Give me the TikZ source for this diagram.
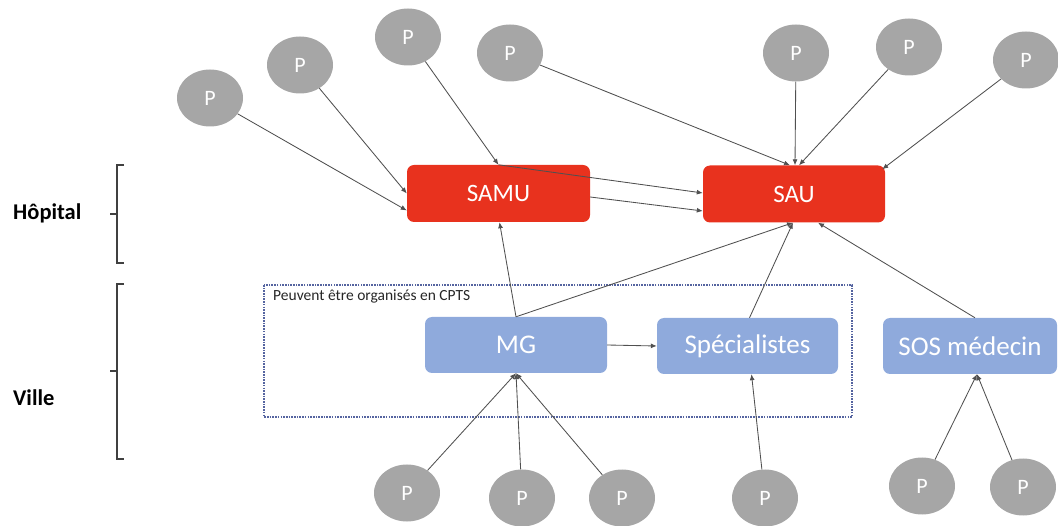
\documentclass[tikz,border=0pt]{standalone}
\usepackage{fontspec}
\setmainfont{Carlito}
\usetikzlibrary{shapes.geometric,arrows.meta}
\definecolor{pgray}{RGB}{166,166,166}
\definecolor{hred}{RGB}{232,50,30}
\definecolor{vblue}{RGB}{143,170,220}
\definecolor{dashc}{RGB}{85,100,160}
\definecolor{linec}{RGB}{80,80,80}
\tikzset{
  pnode/.style={ellipse, fill=pgray, minimum width=66pt, minimum height=57pt, inner sep=0pt,
    text=white, font=\fontsize{22}{24}\selectfont},
  redbox/.style={rectangle, rounded corners=7pt, fill=hred, minimum width=183pt, minimum height=57pt,
    inner sep=0pt, text=white, font=\fontsize{25}{28}\selectfont},
  bluebox/.style={rectangle, rounded corners=7pt, fill=vblue, minimum height=56pt,
    inner sep=0pt, text=white, font=\fontsize{27}{30}\selectfont},
  arr/.style={draw=linec, line width=0.85pt, -{Latex[length=6pt,width=5pt]}},
  bracec/.style={draw=black!75, line width=1.1pt},
  sidelabel/.style={anchor=west, inner sep=0pt, font=\bfseries\fontsize{22.5}{24}\selectfont},
}
\begin{document}
\begin{tikzpicture}[x=1pt,y=-1pt]
\useasboundingbox (0,0) rectangle (1058,526);

% dashed CPTS group
\draw[dashc, line width=1.1pt, dash pattern=on 1.6pt off 1.1pt] (264,285) rectangle (852,417);
\node[anchor=west, inner sep=0pt, text=black!85, font=\fontsize{15.5}{17}\selectfont] (cpts) at (273,297) {Peuvent être organisés en CPTS};

% side labels and braces
\node[sidelabel] (hop) at (13,213) {Hôpital};
\node[sidelabel] (ville) at (13,398) {Ville};
\draw[bracec] (124,165) -- (117,165) -- (117,263) -- (124,263);
\draw[bracec] (117,214) -- (110,214);
\draw[bracec] (124,284) -- (117,284) -- (117,459) -- (124,459);
\draw[bracec] (117,371) -- (110,371);

% main boxes
\node[redbox] (samu) at (498.5,193.5) {SAMU};
\node[redbox, minimum width=182pt] (sau) at (794,194) {SAU};
\node[bluebox, minimum width=182pt] (mg) at (516,345) {MG};
\node[bluebox, minimum width=181pt] (spec) at (747.5,346) {Spécialistes};
\node[bluebox, minimum width=174pt] (sos) at (970,346) {SOS médecin};

% patients
\node[pnode] (p1) at (210,98) {P};
\node[pnode] (p2) at (300,65) {P};
\node[pnode] (p3) at (408,37) {P};
\node[pnode] (p4) at (510,53) {P};
\node[pnode] (p5) at (796,53) {P};
\node[pnode] (p6) at (909,47) {P};
\node[pnode] (p7) at (1026,60) {P};
\node[pnode] (p8) at (407,493) {P};
\node[pnode] (p9) at (522,498) {P};
\node[pnode] (p10) at (622,498) {P};
\node[pnode] (p11) at (765,498) {P};
\node[pnode] (p12) at (922,486) {P};
\node[pnode] (p13) at (1023,487) {P};

% connectors to SAMU
\draw[arr] (p1) -- ([yshift=-17pt]samu.west);
\draw[arr] (p2) -- (samu.west);
\draw[arr] (p3) -- (samu.north);
\draw[arr] (mg.north) -- ([xshift=1pt]samu.south);

% SAMU to SAU
\draw[arr] (samu.north) -- ([yshift=1pt]sau.west);
\draw[arr] ([yshift=-3.5pt]samu.east) -- ([yshift=-17pt]sau.west);

% connectors to SAU
\draw[arr] (p4) -- ([xshift=-4pt]sau.north);
\draw[arr] (p5) -- ([xshift=1pt]sau.north);
\draw[arr] (p6) -- ([xshift=5pt]sau.north);
\draw[arr] (p7) -- ([xshift=-3pt,yshift=-4pt]sau.north east);
\draw[arr] (mg.north) -- ([xshift=-1pt]sau.south);
\draw[arr] ([xshift=2pt]spec.north) -- ([xshift=-1pt]sau.south);
\draw[arr] ([xshift=5pt]sos.north) -- ([xshift=24pt]sau.south);

% city level
\draw[arr] (mg.east) -- (spec.west);
\draw[arr] (p8) -- (mg.south);
\draw[arr] (p9) -- (mg.south);
\draw[arr] (p10) -- (mg.south);
\draw[arr] (p11) -- ([xshift=4pt]spec.south);
\draw[arr] (p12) -- ([xshift=7pt]sos.south);
\draw[arr] (p13) -- ([xshift=7pt]sos.south);
\end{tikzpicture}
\end{document}
